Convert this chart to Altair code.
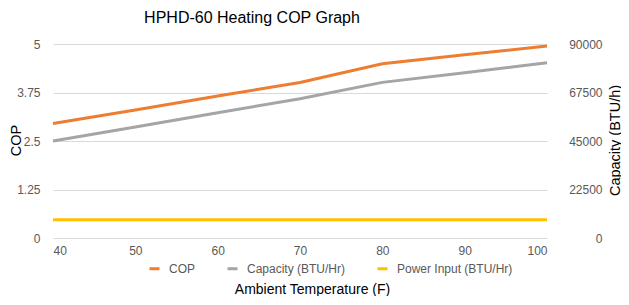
import altair as alt
import pandas as pd

temps = [40, 50, 60, 70, 80, 90, 100]
cop = [2.95, 3.30, 3.66, 4.01, 4.49, 4.72, 4.95]
capacity = [45000, 51500, 58100, 64600, 72200, 76700, 81300]
power = [8450, 8450, 8450, 8450, 8450, 8450, 8450]

series_names = ["COP", "Capacity (BTU/Hr)", "Power Input (BTU/Hr)"]
series_colors = ["#ED7D31", "#A5A5A5", "#FFC000"]

df_cop = pd.DataFrame({"temp": temps, "value": cop, "series": series_names[0]})
df_right = pd.concat([
    pd.DataFrame({"temp": temps, "value": capacity, "series": series_names[1]}),
    pd.DataFrame({"temp": temps, "value": power, "series": series_names[2]}),
])

FONT = "Liberation Sans"
W, H = 494, 194

color = alt.Color(
    "series:N",
    scale=alt.Scale(domain=series_names, range=series_colors),
    legend=alt.Legend(
        title=None, orient="none", direction="horizontal",
        legendX=95, legendY=218, symbolType="stroke", symbolSize=100,
        symbolStrokeWidth=3, labelFont=FONT, labelFontSize=12,
        labelColor="#595959", columnPadding=25, labelOffset=8, padding=0,
    ),
)

x = alt.X(
    "temp:Q",
    scale=alt.Scale(domain=[40, 100], nice=False, zero=False),
    axis=alt.Axis(
        values=temps, grid=False, domain=False, ticks=False, labelPadding=7,
        labelFont=FONT, labelFontSize=12, labelColor="#595959",
        title="Ambient Temperature (F)", titleFont=FONT, titleFontSize=14,
        titleFontWeight="normal", titleColor="#000000",
        titleX=259, titleY=51, titleBaseline="middle", titleAlign="center",
    ),
)

left = alt.Chart(df_cop).mark_line(strokeWidth=3).encode(
    x=x,
    y=alt.Y(
        "value:Q",
        scale=alt.Scale(domain=[0, 5], nice=False),
        axis=alt.Axis(
            orient="left", values=[0, 1.25, 2.5, 3.75, 5], labelExpr="'' + datum.value",
            grid=True, gridColor="#D9D9D9", gridWidth=1, domain=False, ticks=False,
            labelPadding=13, labelFont=FONT, labelFontSize=12, labelColor="#595959",
            title="COP", titleFont=FONT, titleFontSize=14.5, titleFontWeight="normal",
            titleColor="#000000", titleX=-37, titleY=96, titleAngle=270,
            titleBaseline="middle", titleAlign="center",
        ),
    ),
    color=color,
)

right = alt.Chart(df_right).mark_line(strokeWidth=3).encode(
    x=x,
    y=alt.Y(
        "value:Q",
        scale=alt.Scale(domain=[0, 90000], nice=False),
        axis=alt.Axis(
            orient="right", values=[0, 22500, 45000, 67500, 90000], format="d",
            grid=False, domain=False, ticks=False, labelAlign="right",
            labelPadding=55, labelFont=FONT, labelFontSize=12, labelColor="#595959",
            title="Capacity (BTU/h)", titleFont=FONT, titleFontSize=14.5,
            titleFontWeight="normal", titleColor="#000000", titleX=68, titleY=96,
            titleAngle=270, titleBaseline="middle", titleAlign="center",
        ),
    ),
    color=color,
)

chart = alt.layer(left, right).resolve_scale(y="independent").properties(
    width=W, height=H,
    title=alt.TitleParams(
        "HPHD-60 Heating COP Graph", font=FONT, fontSize=16, fontWeight="normal",
        color="#000000", dx=-48, offset=12, anchor="middle",
    ),
    autosize=alt.AutoSizeParams(type="none"),
    padding={"left": 45, "top": 36, "right": 74, "bottom": 58},
).configure_view(stroke=None)

chart.save("out.html", embed_options={"renderer": "svg", "actions": False})
